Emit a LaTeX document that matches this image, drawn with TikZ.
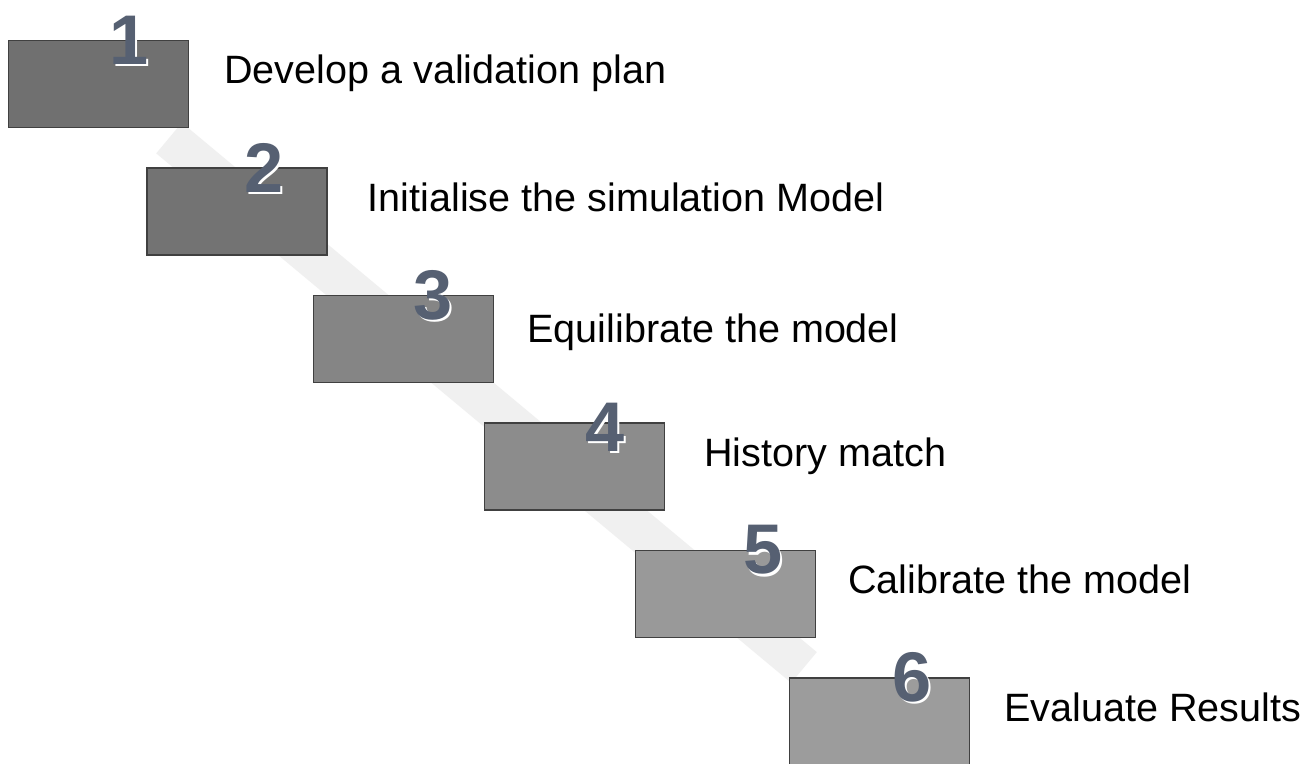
\documentclass[tikz,border=0pt]{standalone}
\usepackage{fontspec}
\setmainfont{Liberation Sans}
\usepackage{xcolor}
\usepackage{tikz}
\usetikzlibrary{shapes,backgrounds}
\definecolor{digitgray}{HTML}{566072}
\tikzstyle{stepbox} = [rectangle, draw=black!75, line width=0.6pt,
    minimum width=3.6cm, minimum height=1.74cm]
\tikzstyle{steptext} = [anchor=base west, inner sep=0pt,
    font=\fontsize{22.5}{26}\selectfont]
\tikzstyle{digit} = [inner sep=0pt, text=digitgray,
    font=\fontsize{40}{42}\selectfont\bfseries]
\tikzstyle{glow} = [digit, text=white, xshift=0.035cm, yshift=-0.045cm]
\tikzstyle{band} = [draw=black!6, line width=0.8cm]

\begin{document}
\begin{tikzpicture}[node distance = 2.55cm]
			\useasboundingbox (0,0) rectangle (26.12,-15.28);
			% 
			\node [stepbox, fill=black!56] (box1) at (1.97,-1.68) {};
			\node [stepbox, fill=black!55, below of=box1, xshift=2.77cm] (box2) {};
			\node [stepbox, fill=black!48, below of=box2, xshift=3.33cm] (box3) {};
			\node [stepbox, fill=black!45, below of=box3, xshift=3.42cm] (box4) {};
			\node [stepbox, fill=black!40, below of=box4, xshift=3.02cm] (box5) {};
			\node [stepbox, fill=black!39, below of=box5, xshift=3.08cm] (box6) {};

			% step numbers on the top edges
			\node [glow] (glow1) at ([xshift=0.62cm]box1.north) {1};
			\node [digit] (num1) at ([xshift=0.62cm]box1.north) {1};
			\node [glow] (glow2) at ([xshift=0.55cm]box2.north) {2};
			\node [digit] (num2) at ([xshift=0.55cm]box2.north) {2};
			\node [glow] (glow3) at ([xshift=0.6cm]box3.north) {3};
			\node [digit] (num3) at ([xshift=0.6cm]box3.north) {3};
			\node [glow] (glow4) at ([xshift=0.62cm, yshift=-0.1cm]box4.north) {4};
			\node [digit] (num4) at ([xshift=0.62cm, yshift=-0.1cm]box4.north) {4};
			\node [glow] (glow5) at ([xshift=0.75cm]box5.north) {5};
			\node [digit] (num5) at ([xshift=0.75cm]box5.north) {5};
			\node [glow] (glow6) at ([xshift=0.65cm]box6.north) {6};
			\node [digit] (num6) at ([xshift=0.65cm]box6.north) {6};

			% step texts
			\node [steptext] (plan) at ([xshift=0.7cm]box1.east) {Develop a validation plan};
			\node [steptext] (init) at ([xshift=0.8cm]box2.east) {Initialise the simulation Model};
			\node [steptext] (equil) at ([xshift=0.66cm, yshift=-0.08cm]box3.east) {Equilibrate the model};
			\node [steptext] (history) at ([xshift=0.78cm]box4.east) {History match};
			\node [steptext] (calib) at ([xshift=0.64cm]box5.east) {Calibrate the model};
			\node [steptext] (results) at ([xshift=0.68cm]box6.east) {Evaluate Results};

			% faint diagonal band behind the steps
			\begin{pgfonlayer}{background}
			\fill [white] (0,0) rectangle (26.12,-15.28);
			\path [band] ([xshift=-0.4cm, yshift=-0.2cm]box1.south east) -- ([xshift=0.3cm, yshift=0.2cm]box6.north west);
			\end{pgfonlayer}
%
	\end{tikzpicture}
\end{document}
